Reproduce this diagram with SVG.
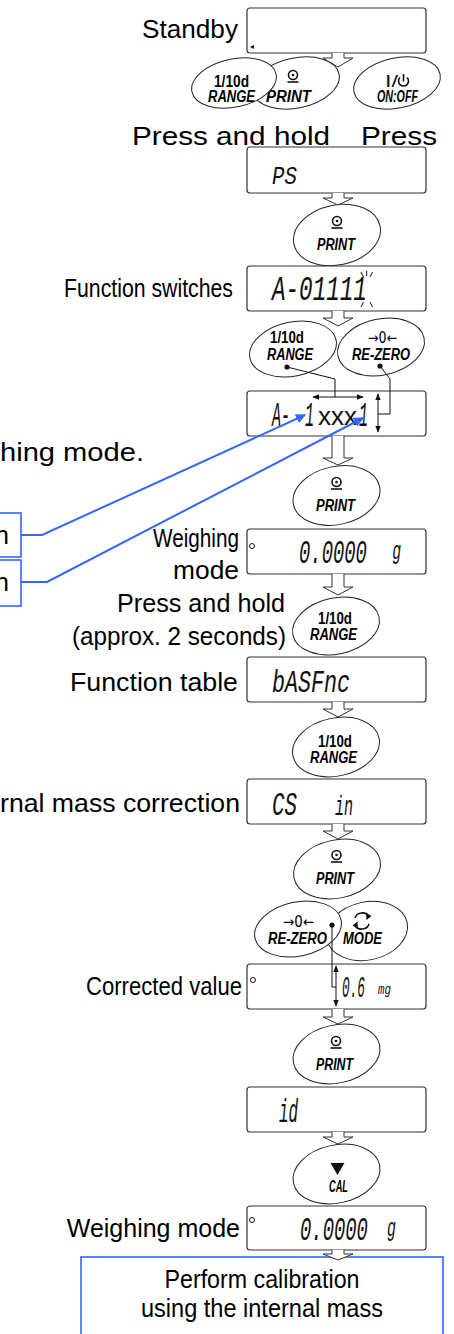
<svg xmlns="http://www.w3.org/2000/svg" width="454" height="1334" viewBox="0 0 454 1334">
<defs>
<style>
.box{fill:#fff;stroke:#333;stroke-width:1.2}
.btn{fill:#fff;stroke:#222;stroke-width:1}
.lbl{font-family:"Liberation Sans",Arial,sans-serif;font-size:25px;fill:#000}
.bt{font-family:"Liberation Sans",Arial,sans-serif;font-size:16px;font-weight:bold;font-style:italic;fill:#000}
.bn{font-family:"Liberation Sans",Arial,sans-serif;font-size:16px;font-weight:bold;fill:#000}
.seg{font-family:"Liberation Mono","DejaVu Sans Mono",monospace;font-style:italic;fill:#111}
.xs{font-family:"Liberation Sans",Arial,sans-serif;fill:#111}
.harr{fill:#fff;stroke:#333;stroke-width:1}
.wire{fill:none;stroke:#111;stroke-width:1}
.blue{fill:none;stroke:#3366ff;stroke-width:2}
.bbox{fill:#fff;stroke:#3366ff;stroke-width:1.6}
.sym{fill:none;stroke:#111;stroke-width:1.6}
.dot{fill:#111}
</style>
<marker id="ab" viewBox="0 0 10 10" refX="9" refY="5" markerWidth="5" markerHeight="5" orient="auto"><path d="M0,0 L10,5 L0,10 z" fill="#3366ff"/></marker>
<marker id="ak" viewBox="0 0 10 10" refX="9" refY="5" markerWidth="7" markerHeight="7" orient="auto-start-reverse"><path d="M0,1 L10,5 L0,9 z" fill="#111"/></marker>
</defs>
<rect width="454" height="1334" fill="#fff"/>

<g id="standby">
<text class="lbl" x="142" y="38" font-size="26" textLength="96" lengthAdjust="spacingAndGlyphs">Standby</text>
<rect class="box" x="247" y="8" width="179" height="45" rx="3"/>
<path d="M250,47 L254,45 L254,49 z" fill="#111"/>
</g>

<g id="btn-print-1">
<ellipse class="btn" cx="296" cy="83" rx="44" ry="25" transform="rotate(-12 296 83)"/>
<circle class="sym" cx="293" cy="75" r="4.5"/><circle class="dot" cx="293" cy="75" r="1.3"/><path class="sym" d="M287.5,82 H298.5"/>
<text class="bt" x="266" y="102" textLength="45" lengthAdjust="spacingAndGlyphs">PRINT</text>
</g>
<g id="btn-range-1">
<ellipse class="btn" cx="234" cy="83" rx="43" ry="24" transform="rotate(-12 234 83)"/>
<text class="bn" x="214" y="87" textLength="35" lengthAdjust="spacingAndGlyphs">1/10d</text>
<text class="bt" x="208" y="102" textLength="47" lengthAdjust="spacingAndGlyphs">RANGE</text>
</g>
<g id="btn-onoff">
<ellipse class="btn" cx="397" cy="83" rx="44" ry="25" transform="rotate(-12 397 83)"/>
<text class="xs" x="385" y="87" font-size="16" textLength="13" lengthAdjust="spacingAndGlyphs">I/</text>
<path class="sym" d="M400,77.5 A5,5 0 1 0 407,77.5 M403.5,74 V81.5"/>
<text class="bt" x="377" y="102" textLength="41" lengthAdjust="spacingAndGlyphs">ON:OFF</text>
</g>
<g id="lbl-press">
<text class="lbl" x="132" y="145" font-size="29" textLength="198" lengthAdjust="spacingAndGlyphs">Press and hold</text>
<text class="lbl" x="361" y="145" font-size="29" textLength="76" lengthAdjust="spacingAndGlyphs">Press</text>
</g>

<g id="disp-ps">
<rect class="box" x="247" y="147" width="179" height="46" rx="3"/>
<text class="seg" font-size="26" transform="translate(272,184) scale(0.8,1)">PS</text>
</g>

<g id="btn-print-2">
<ellipse class="btn" cx="337" cy="235" rx="44" ry="30" transform="rotate(-12 337 235)"/>
<circle class="sym" cx="337" cy="221" r="4.5"/><circle class="dot" cx="337" cy="221" r="1.3"/><path class="sym" d="M331.5,228 H342.5"/>
<text class="bt" x="317" y="250" textLength="38" lengthAdjust="spacingAndGlyphs">PRINT</text>
</g>

<g id="disp-fsw">
<text class="lbl" x="64" y="297" font-size="22" textLength="169" lengthAdjust="spacingAndGlyphs">Function switches</text>
<rect class="box" x="247" y="266" width="179" height="45" rx="3"/>
<text class="seg" font-size="36" transform="translate(272,300) scale(0.628,1)">A-01111</text>
<path class="wire" d="M361,272 L363.5,277 M366.7,271 V276 M372.5,272 L370,277 M363.5,302 L361,307 M370,302 L372.5,307"/>
</g>

<g id="btn-range-3">
<ellipse class="btn" cx="293" cy="349" rx="44" ry="27" transform="rotate(-12 293 349)"/>
<text class="bn" x="270" y="343" textLength="34" lengthAdjust="spacingAndGlyphs">1/10d</text>
<text class="bt" x="267" y="360" textLength="46" lengthAdjust="spacingAndGlyphs">RANGE</text>
<circle class="dot" cx="287" cy="367" r="2.6"/>
</g>
<g id="btn-rezero-3">
<ellipse class="btn" cx="381" cy="347" rx="44" ry="28" transform="rotate(-12 381 347)"/>
<text x="368" y="343" font-family="DejaVu Sans,sans-serif" font-size="15" textLength="29" lengthAdjust="spacingAndGlyphs" fill="#000">→0←</text>
<text class="bt" x="352" y="360" textLength="58" lengthAdjust="spacingAndGlyphs">RE-ZERO</text>
<circle class="dot" cx="380" cy="366" r="2.6"/>
</g>

<g id="disp-axxx">
<rect class="box" x="247" y="391" width="179" height="45" rx="3"/>
<text class="seg" font-size="35" transform="translate(272,426) scale(0.43,1)">A-<tspan x="77">1</tspan></text>
<text class="xs" x="318" y="425" font-size="26">xxx</text>
<text class="seg" font-size="35" transform="translate(359,426) scale(0.43,1)">1</text>
</g>

<g id="lbl-weighing-cut">
<text class="lbl" x="0" y="461" font-size="28" textLength="144" lengthAdjust="spacingAndGlyphs">hing mode.</text>
</g>

<g id="blue-box-1">
<rect class="bbox" x="-10" y="513" width="31" height="44"/>
<text class="lbl" x="-5" y="544" font-size="28">n</text>
</g>
<g id="blue-box-2">
<rect class="bbox" x="-10" y="560" width="31" height="46"/>
<text class="lbl" x="-5" y="591" font-size="28">n</text>
</g>

<g id="btn-print-4">
<ellipse class="btn" cx="336.5" cy="495.5" rx="44" ry="29" transform="rotate(-12 336.5 495.5)"/>
<circle class="sym" cx="336.5" cy="482" r="4.5"/><circle class="dot" cx="336.5" cy="482" r="1.3"/><path class="sym" d="M331,489 H342"/>
<text class="bt" x="316" y="511" textLength="39" lengthAdjust="spacingAndGlyphs">PRINT</text>
</g>

<g id="disp-wm1">
<text class="lbl" x="239" y="547" font-size="22" text-anchor="end" textLength="86" lengthAdjust="spacingAndGlyphs">Weighing</text>
<text class="lbl" x="239" y="579" text-anchor="end" textLength="66" lengthAdjust="spacingAndGlyphs">mode</text>
<rect class="box" x="247" y="529" width="179" height="45" rx="3"/>
<circle cx="252" cy="546" r="2.5" fill="none" stroke="#111" stroke-width="1"/>
<text class="seg" font-size="33" transform="translate(299,563) scale(0.572,1)">0.0000<tspan x="163" y="-4" font-size="26">g</tspan></text>
</g>

<g id="lbl-press-2">
<text class="lbl" x="117" y="612" textLength="168" lengthAdjust="spacingAndGlyphs">Press and hold</text>
<text class="lbl" x="72" y="645" font-size="24" textLength="214" lengthAdjust="spacingAndGlyphs">(approx. 2 seconds)</text>
</g>
<g id="btn-range-5">
<ellipse class="btn" cx="336" cy="626" rx="44" ry="28" transform="rotate(-12 336 626)"/>
<text class="bn" x="318" y="624" textLength="34" lengthAdjust="spacingAndGlyphs">1/10d</text>
<text class="bt" x="310" y="640" textLength="47" lengthAdjust="spacingAndGlyphs">RANGE</text>
</g>

<g id="disp-ftable">
<text class="lbl" x="70" y="691" font-size="27" textLength="168" lengthAdjust="spacingAndGlyphs">Function table</text>
<rect class="box" x="247" y="657" width="179" height="45" rx="3"/>
<text class="seg" font-size="31" transform="translate(272,692) scale(0.7,1)">bASFnc</text>
</g>

<g id="btn-range-6">
<ellipse class="btn" cx="336" cy="747" rx="44" ry="29" transform="rotate(-12 336 747)"/>
<text class="bn" x="318" y="747" textLength="34" lengthAdjust="spacingAndGlyphs">1/10d</text>
<text class="bt" x="310" y="763" textLength="47" lengthAdjust="spacingAndGlyphs">RANGE</text>
</g>

<g id="disp-csin">
<text class="lbl" x="0" y="812" font-size="27" textLength="240" lengthAdjust="spacingAndGlyphs">rnal mass correction</text>
<rect class="box" x="247" y="779" width="179" height="45" rx="3"/>
<text class="seg" font-size="33" transform="translate(272,815) scale(0.63,1)">CS</text>
<text class="seg" font-size="28" transform="translate(335,815) scale(0.54,1)">in</text>
</g>

<g id="btn-print-7">
<ellipse class="btn" cx="337" cy="869" rx="44" ry="29" transform="rotate(-12 337 869)"/>
<circle class="sym" cx="336.5" cy="855" r="4.5"/><circle class="dot" cx="336.5" cy="855" r="1.3"/><path class="sym" d="M331,862 H342"/>
<text class="bt" x="316" y="884" textLength="38" lengthAdjust="spacingAndGlyphs">PRINT</text>
</g>

<g id="btn-mode">
<ellipse class="btn" cx="367" cy="931" rx="41" ry="29" transform="rotate(-12 367 931)"/>
<path class="sym" d="M355,918 A7.5,6.5 0 0 1 369,916.5 M369,924 A7.5,6.5 0 0 1 355,925.5"/>
<path d="M366,913 L371.5,916 L366.5,920 z M358,929 L352.5,925.5 L357.5,921.5 z" fill="#111"/>
<text class="bt" x="343" y="944" textLength="39" lengthAdjust="spacingAndGlyphs">MODE</text>
</g>
<g id="btn-rezero-7">
<ellipse class="btn" cx="298" cy="929" rx="44" ry="27" transform="rotate(-12 298 929)"/>
<text x="283" y="927" font-family="DejaVu Sans,sans-serif" font-size="15" textLength="31" lengthAdjust="spacingAndGlyphs" fill="#000">→0←</text>
<text class="bt" x="268" y="944" textLength="59" lengthAdjust="spacingAndGlyphs">RE-ZERO</text>
<circle class="dot" cx="332" cy="925" r="2.6"/>
</g>

<g id="disp-corr">
<text class="lbl" x="86" y="995" font-size="22" textLength="156" lengthAdjust="spacingAndGlyphs">Corrected value</text>
<rect class="box" x="247" y="964" width="179" height="45" rx="3"/>
<circle cx="253" cy="980" r="2.5" fill="none" stroke="#111" stroke-width="1"/>
<text class="seg" font-size="30" transform="translate(342,997) scale(0.426,1)">0.6</text>
<text class="seg" font-size="14" transform="translate(378,994) scale(0.77,1)">mg</text>
</g>

<g id="btn-print-8">
<ellipse class="btn" cx="336.5" cy="1054" rx="44" ry="29" transform="rotate(-12 336.5 1054)"/>
<circle class="sym" cx="336" cy="1041" r="4.5"/><circle class="dot" cx="336" cy="1041" r="1.3"/><path class="sym" d="M330.5,1048 H341.5"/>
<text class="bt" x="316" y="1070" textLength="37" lengthAdjust="spacingAndGlyphs">PRINT</text>
</g>

<g id="disp-id">
<rect class="box" x="247" y="1087" width="179" height="45" rx="3"/>
<text class="seg" font-size="34" transform="translate(279,1122) scale(0.47,1)">id</text>
</g>

<g id="btn-cal">
<ellipse class="btn" cx="336.5" cy="1174" rx="44" ry="29" transform="rotate(-12 336.5 1174)"/>
<path d="M330.5,1163 H344.5 L337.5,1175 z" fill="#111"/>
<text class="bt" x="329" y="1192" textLength="19" lengthAdjust="spacingAndGlyphs">CAL</text>
</g>

<g id="disp-wm2">
<text class="lbl" x="240" y="1237" text-anchor="end">Weighing mode</text>
<rect class="box" x="247" y="1206" width="179" height="44" rx="3"/>
<circle cx="252" cy="1220" r="2.5" fill="none" stroke="#111" stroke-width="1"/>
<text class="seg" font-size="33" transform="translate(300,1240) scale(0.572,1)">0.0000<tspan x="152" y="-4" font-size="26">g</tspan></text>
</g>

<g id="result">
<rect class="bbox" x="81" y="1257" width="362" height="90"/>
<text class="lbl" x="262" y="1288" font-size="24" text-anchor="middle" textLength="195" lengthAdjust="spacingAndGlyphs">Perform calibration</text>
<text class="lbl" x="262" y="1317" font-size="24" text-anchor="middle" textLength="242" lengthAdjust="spacingAndGlyphs">using the internal mass</text>
</g>

<g id="connectors">
<path class="harr" d="M332,53 V58 H323 L338,67 L353,58 H344 V53"/>
<path class="harr" d="M332,193 V198 H323 L338,205 L353,198 H344 V193"/>
<path class="harr" d="M332,311 V318 H323 L338,326 L353,318 H344 V311"/>
<path class="harr" d="M332,436 V458 H323 L338,465 L353,458 H344 V436"/>
<path class="harr" d="M332,574 V587 H323 L338,595 L353,587 H344 V574"/>
<path class="harr" d="M332,702 V709 H323 L338,717 L353,709 H344 V702"/>
<path class="harr" d="M332,824 V831 H323 L338,839 L353,831 H344 V824"/>
<path class="harr" d="M332,1009 V1017 H323 L338,1024 L353,1017 H344 V1009"/>
<path class="harr" d="M332,1132 V1137 H323 L338,1144 L353,1137 H344 V1132"/>
<path class="harr" d="M332,1250 V1254 H323 L338,1260 L353,1254 H344 V1250"/>
<path class="wire" d="M287,367 L335,379 V397"/>
<path class="wire" d="M313,397 H363" marker-start="url(#ak)" marker-end="url(#ak)"/>
<path class="wire" d="M380,366 L390,379 V414 H378"/>
<path class="wire" d="M378,394 V432" marker-start="url(#ak)" marker-end="url(#ak)"/>
<path class="wire" d="M332,925 V987 H336"/>
<path class="wire" d="M336,966 V1006" marker-start="url(#ak)" marker-end="url(#ak)"/>
<path class="blue" d="M21,535 H42 L305,415" marker-end="url(#ab)"/>
<path class="blue" d="M21,582 H47 L363,418" marker-end="url(#ab)"/>
</g>
</svg>
